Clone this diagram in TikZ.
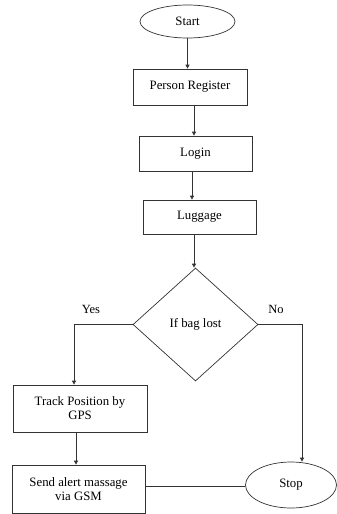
\documentclass[tikz,border=0pt]{standalone}
\usepackage{fontspec}
\setmainfont{Liberation Serif}
\usetikzlibrary{shapes.geometric,arrows.meta}
\begin{document}
\begin{tikzpicture}[x=1pt,y=-1pt,
  every node/.style={font=\fontsize{12.8}{14}\selectfont, inner sep=0pt},
  box/.style={draw=black!80, line width=0.7pt, rectangle, align=center},
  term/.style={draw=black!80, line width=0.7pt, ellipse},
  dec/.style={draw=black!80, line width=0.7pt, diamond},
  conn/.style={draw=black!80, line width=0.7pt},
  arr/.style={conn, -{Triangle[length=4pt,width=4pt]}},
  lbl/.style={font=\fontsize{12.5}{14}\selectfont}]
\useasboundingbox (0,0) rectangle (337,514);
\node[term, minimum width=95pt, minimum height=33pt] (start) at (187.5,21.5) {Start};
\node[box, minimum width=114pt, minimum height=36pt] (reg) at (190,87) {Person Register};
\node[box, minimum width=113pt, minimum height=35pt] (login) at (195.5,153.5) {Login};
\node[box, minimum width=113pt, minimum height=34pt] (lug) at (199.5,217) {Luggage};
\node[dec, minimum width=125pt, minimum height=113pt] (dia) at (195.5,324.5) {If bag lost};
\node[box, minimum width=134pt, minimum height=47pt] (track) at (80,408.5) {Track Position by\\GPS};
\node[box, minimum width=133pt, minimum height=48pt] (send) at (78.5,489) {Send alert massage\\via GSM};
\node[term, minimum width=91pt, minimum height=46pt] (stop) at (291,485) {Stop};
\coordinate (yc) at (74,324.5);
\coordinate (nc) at (302,324.5);
\node[lbl] (yes) at (91,309) {Yes};
\node[lbl] (no) at (276,309) {No};
\draw[arr] (start.south) -- (start.south |- reg.north);
\draw[arr] (reg.south -| 194,0) -- (194,0 |- login.north);
\draw[arr] (login.south -| 192,0) -- (192,0 |- lug.north);
\draw[arr] (lug.south -| 194,0) -- (194,0 |- dia.north);
\draw[arr] (dia.west) -- (yc) -- (yc |- track.north);
\draw[arr] (dia.east) -- (nc) -- (nc |- stop.north);
\draw[arr] (track.south -| 76,0) -- (76,0 |- send.north);
\draw[conn] (send.east |- 0,486) -- (stop.west |- 0,486);
\end{tikzpicture}
\end{document}
